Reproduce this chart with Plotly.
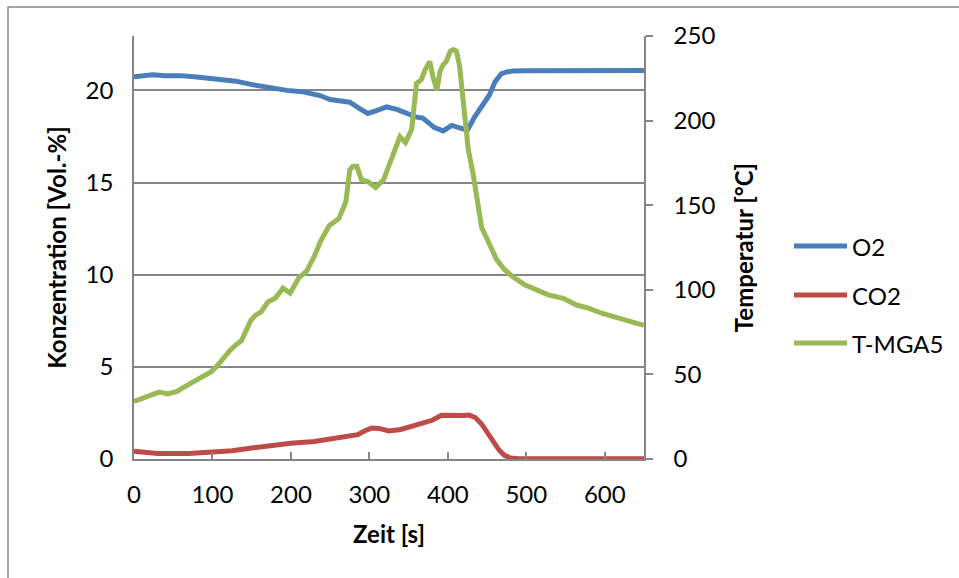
import plotly.graph_objects as go

# --- measured series -------------------------------------------------------
o2_t = [0, 10, 24, 40, 59, 80, 110, 130, 152, 170, 195, 214, 228, 237, 250, 262,
        275, 288, 298, 309, 322, 335, 349, 360, 368, 383, 394, 405, 415, 425,
        434, 445, 453, 460, 468, 475, 483, 500, 550, 600, 650]
o2_v = [20.74, 20.78, 20.85, 20.8, 20.8, 20.72, 20.62, 20.5, 20.3, 20.15, 20.0,
        19.93, 19.78, 19.72, 19.5, 19.42, 19.36, 19.0, 18.75, 18.9, 19.1, 18.97,
        18.75, 18.55, 18.5, 17.98, 17.8, 18.1, 17.97, 17.85, 18.55, 19.3, 19.75,
        20.45, 20.9, 21.0, 21.05, 21.07, 21.07, 21.08, 21.08]

co2_t = [0, 15, 30, 50, 70, 100, 125, 150, 175, 200, 230, 250, 270, 285, 295,
         303, 312, 325, 340, 360, 380, 392, 400, 410, 420, 427, 435, 443, 450,
         458, 465, 472, 480, 490, 520, 560, 600, 650]
co2_v = [0.42, 0.36, 0.3, 0.3, 0.3, 0.38, 0.45, 0.6, 0.75, 0.85, 0.95, 1.08, 1.2,
         1.32, 1.55, 1.68, 1.66, 1.52, 1.6, 1.82, 2.1, 2.37, 2.36, 2.33, 2.36,
         2.38, 2.25, 1.9, 1.45, 0.95, 0.5, 0.2, 0.05, 0.02, 0.02, 0.02, 0.02, 0.02]

tmga_t = [0, 10, 20, 32, 43, 55, 62, 75, 89, 98, 106, 114, 122, 130, 137, 143,
          149, 155, 162, 171, 180, 190, 199, 205, 210, 220, 231, 238, 249, 261,
          266, 270, 275, 279, 284, 290, 298, 308, 318, 326, 333, 339, 346, 354,
          360, 366, 371, 377, 381, 386, 390, 394, 398, 403, 407, 411, 415, 419,
          426, 432, 437, 443, 450, 462, 472, 482, 498, 512, 528, 547, 564, 580,
          597, 620, 636, 650]
tmga_v = [34, 35.5, 37, 39.5, 38.5, 40, 42, 45.5, 49.5, 51.5, 55, 60, 64, 67.5,
          70, 76, 82, 85, 87, 93, 95, 101, 98, 103, 107, 111, 121, 129, 138, 142,
          147, 152, 171, 173, 173, 165, 164, 160.5, 165, 174, 182, 190.5, 187,
          195, 222, 224, 230, 235, 226, 218, 229, 233, 235, 241, 242, 241, 232,
          214, 183, 169, 153, 137, 130, 118, 112, 108, 103, 100, 97, 95, 91, 89,
          86, 83, 81, 79]

series_names = ["O2", "CO2", "T-MGA5"]
series_colors = ["#4A7EBB", "#BE4B48", "#98B954"]

x_ticks = [0, 100, 200, 300, 400, 500, 600]
conc_ticks = [0, 5, 10, 15, 20]
temp_ticks = [0, 50, 100, 150, 200, 250]
conc_max = 22.95
temp_max = 250

# --- figure geometry (pixels) ---------------------------------------------
W, H = 959, 578
L, R, T, B = 134, 644, 36, 459
GRAY = "#868686"
FONT = "Lato"

def px_x(p):
    return (p - L) / (R - L)

def px_y(p):
    return (B - p) / (B - T)

fig = go.Figure()
fig.add_trace(go.Scatter(x=o2_t, y=o2_v, mode="lines", name=series_names[0],
                         line=dict(color=series_colors[0], width=5), yaxis="y"))
fig.add_trace(go.Scatter(x=co2_t, y=co2_v, mode="lines", name=series_names[1],
                         line=dict(color=series_colors[1], width=5), yaxis="y"))
fig.add_trace(go.Scatter(x=tmga_t, y=tmga_v, mode="lines", name=series_names[2],
                         line=dict(color=series_colors[2], width=5), yaxis="y2"))

tickfont = dict(family=FONT, size=24, color="black")
titlefont = dict(family=FONT, size=24, color="black")

fig.update_layout(
    width=W, height=H,
    margin=dict(l=L, r=W - R, t=T, b=H - B),
    paper_bgcolor="white", plot_bgcolor="white",
    showlegend=False,
    xaxis=dict(range=[0, 650], tickvals=x_ticks, ticks="inside", ticklen=7,
               tickcolor=GRAY, tickwidth=1.5, showline=True, linecolor=GRAY,
               linewidth=1.5, showgrid=False, zeroline=False, tickfont=tickfont,
               ticklabelstandoff=13,
               title=dict(text="<b>Zeit [s]</b>", font=titlefont, standoff=20)),
    yaxis=dict(range=[0, conc_max],
               tickvals=conc_ticks, ticks="", showline=True, linecolor=GRAY,
               linewidth=1.5, showgrid=True, gridcolor=GRAY, gridwidth=1.5,
               zeroline=False, tickfont=tickfont, ticklabelstandoff=14,
               title=dict(text="<b>Konzentration [Vol.-%]</b>", font=titlefont,
                          standoff=12)),
    yaxis2=dict(range=[0, temp_max], tickvals=temp_ticks, overlaying="y",
                side="right", anchor="x", ticks="outside", ticklen=7,
                tickcolor=GRAY, tickwidth=1.5, showline=True, linecolor=GRAY,
                linewidth=1.5, showgrid=False, zeroline=False, tickfont=tickfont,
                ticklabelstandoff=16,
                title=dict(text="<b>Temperatur [°C]</b>", font=titlefont,
                           standoff=22)),
)

# chart-area frame
fig.add_shape(type="rect", xref="paper", yref="paper", layer="below",
              x0=px_x(8), x1=px_x(W + 20), y0=px_y(H + 20), y1=px_y(7),
              line=dict(color=GRAY, width=1.5), fillcolor="rgba(0,0,0,0)")

# legend
leg_y = [246, 295, 343]
for name, col, yy in zip(series_names, series_colors, leg_y):
    fig.add_shape(type="line", xref="paper", yref="paper",
                  x0=px_x(794), x1=px_x(847), y0=px_y(yy), y1=px_y(yy),
                  line=dict(color=col, width=5))
    fig.add_annotation(xref="paper", yref="paper", x=px_x(850), y=px_y(yy),
                       text=name, showarrow=False, xanchor="left",
                       yanchor="middle", font=dict(family=FONT, size=24,
                                                   color="black"))

fig.write_html("out.html")
